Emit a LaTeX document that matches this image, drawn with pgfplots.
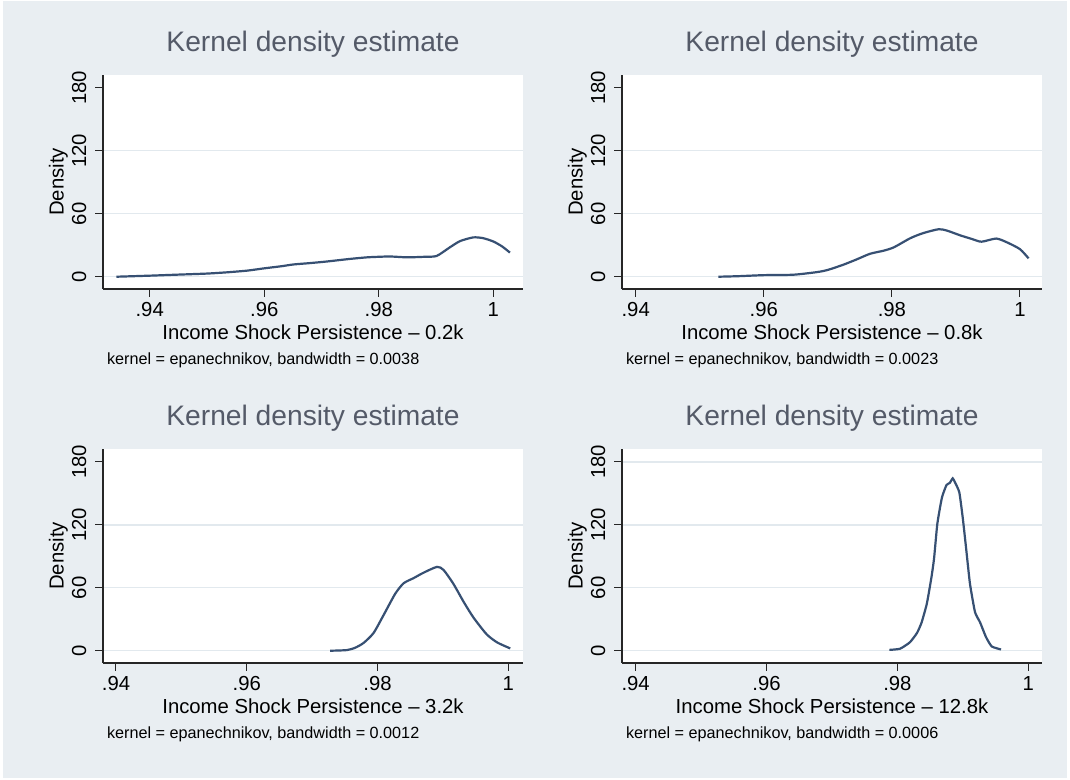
\documentclass[border=0pt]{standalone}
\usepackage{fontspec}
\setmainfont{Liberation Sans}
\usepackage{pgfplots}
\pgfplotsset{compat=1.18}
\definecolor{bg}{RGB}{233,238,242}
\definecolor{gridc}{RGB}{226,233,238}
\definecolor{curve}{RGB}{55,80,115}
\definecolor{titlec}{RGB}{84,90,104}
\pgfplotsset{kd/.style={
  scale only axis, width=209.7pt, height=107pt, anchor=south west,
  axis x line*=bottom, axis y line*=left,
  axis line style={line width=0.9pt, black!85},
  axis background/.style={fill=white},
  tick align=outside, major tick length=4pt,
  every tick/.style={line width=0.5pt, black!85},
  ymin=-11.7, ymax=192.4,
  xtick={0.94,0.96,0.98,1}, xticklabels={.94,.96,.98,1},
  ytick={0,60,120}, yticklabels={0,60,120},
  extra y ticks={180}, extra y tick labels={180},
  extra y tick style={grid=none},
  ymajorgrids, grid style={gridc, line width=0.6pt},
  tick label style={font=\fontsize{10.15}{12}\selectfont, black, inner sep=0pt},
  xticklabel style={anchor=base},
  xticklabel shift=9.6pt,
  yticklabel style={rotate=90, anchor=base},
  yticklabel shift=4.6pt,
  title style={font=\fontsize{14.1}{16}\selectfont, color=titlec, inner sep=0pt,
    at={(axis description cs:0.5,1)}, anchor=base, yshift=5.85pt},
  xlabel style={font=\fontsize{10.15}{12}\selectfont, inner sep=0pt,
    at={(axis description cs:0.5,0)}, anchor=base, yshift=-25.2pt},
  ylabel style={font=\fontsize{10.15}{12}\selectfont, inner sep=0pt,
    at={([xshift=-19.8pt]axis description cs:0,0.5)}, anchor=base},
  title={Kernel density estimate}, ylabel={Density},
}}
\tikzset{note/.style={anchor=base west, inner sep=0pt, font=\fontsize{8.1}{10}\selectfont}}
\begin{document}
\begin{tikzpicture}
\fill[white] (0,0) rectangle (535pt,390pt);
\fill[bg] (1.5pt,1.2pt) rectangle (533.5pt,389.4pt);
% Panel 1
\begin{axis}[kd, name=p1, at={(51.65pt,245.5pt)}, xmin=0.9319, xmax=1.00513,
  xlabel={Income Shock Persistence -- 0.2k}]
\addplot[curve, line width=1.1pt, smooth, tension=0.4] coordinates {
(0.9342,0) (0.9400,1.0) (0.9450,2.0) (0.9500,3.0) (0.9535,4.2) (0.9570,5.8)
(0.9600,8) (0.9630,10) (0.9651,11.7) (0.9680,13) (0.9709,14.5) (0.9750,17)
(0.9780,18.5) (0.9800,19) (0.9820,19.3) (0.9849,18.5) (0.9880,19) (0.9901,19.8)
(0.9924,28) (0.9942,34) (0.9965,37.5) (0.9982,36.8) (1.0000,33.6) (1.0015,29) (1.0029,23)};
\end{axis}
\node[note] at ([xshift=1.7pt,yshift=-37.65pt]p1.south west) {kernel = epanechnikov, bandwidth = 0.0038};
% Panel 2
\begin{axis}[kd, name=p2, at={(311.15pt,245.5pt)}, xmin=0.93791, xmax=1.0034,
  xlabel={Income Shock Persistence -- 0.8k}]
\addplot[curve, line width=1.1pt, smooth, tension=0.4] coordinates {
(0.9529,0) (0.9560,0.5) (0.9600,1.5) (0.9646,1.9) (0.9683,4.4) (0.9700,6.5)
(0.9724,11.4) (0.9745,16.5) (0.9766,21.9) (0.9787,24.8) (0.9803,28) (0.9829,36.8)
(0.9849,41.6) (0.9873,45.3) (0.9886,44) (0.9907,39.4) (0.9925,36) (0.9940,33.4)
(0.9963,36.4) (0.9980,32.7) (1.0000,26.3) (1.00135,17.5)};
\end{axis}
\node[note] at ([xshift=1.7pt,yshift=-37.65pt]p2.south west) {kernel = epanechnikov, bandwidth = 0.0023};
% Panel 3
\begin{axis}[kd, name=p3, at={(51.65pt,58.5pt)}, xmin=0.93806, xmax=1.0022,
  xlabel={Income Shock Persistence -- 3.2k}]
\addplot[curve, line width=1.1pt, smooth, tension=0.4] coordinates {
(0.97276,0) (0.9753,0.6) (0.9766,2.9) (0.9779,7.6) (0.9794,17) (0.9809,33.7)
(0.9827,54.3) (0.9840,64.4) (0.9855,69.2) (0.9870,74.3) (0.9891,80) (0.9901,77)
(0.9916,63.8) (0.9932,46.3) (0.9947,31.4) (0.9967,15.6) (0.9983,7.9) (1.0003,2.2)};
\end{axis}
\node[note] at ([xshift=1.7pt,yshift=-37.65pt]p3.south west) {kernel = epanechnikov, bandwidth = 0.0012};
% Panel 4
\begin{axis}[kd, name=p4, at={(311.15pt,58.5pt)}, xmin=0.93796, xmax=1.00205,
  xlabel={Income Shock Persistence -- 12.8k},
  ytick={0,60,120,180}, yticklabels={0,60,120,180}, extra y ticks={}]
\addplot[curve, line width=1.1pt, smooth, tension=0.3] coordinates {
(0.97877,0.8) (0.9804,1.9) (0.9819,8) (0.9830,17) (0.9837,27) (0.9845,45)
(0.9852,70) (0.9856,88) (0.9861,121) (0.9868,146) (0.9875,158) (0.9880,160)
(0.98845,164.4) (0.9888,160.6) (0.98946,151) (0.98998,127) (0.99048,98.7)
(0.99109,63.8) (0.99186,36.8) (0.99262,27.2) (0.99354,13) (0.99441,4.1) (0.99583,1.2)};
\end{axis}
\node[note] at ([xshift=1.7pt,yshift=-37.65pt]p4.south west) {kernel = epanechnikov, bandwidth = 0.0006};
\end{tikzpicture}
\end{document}
